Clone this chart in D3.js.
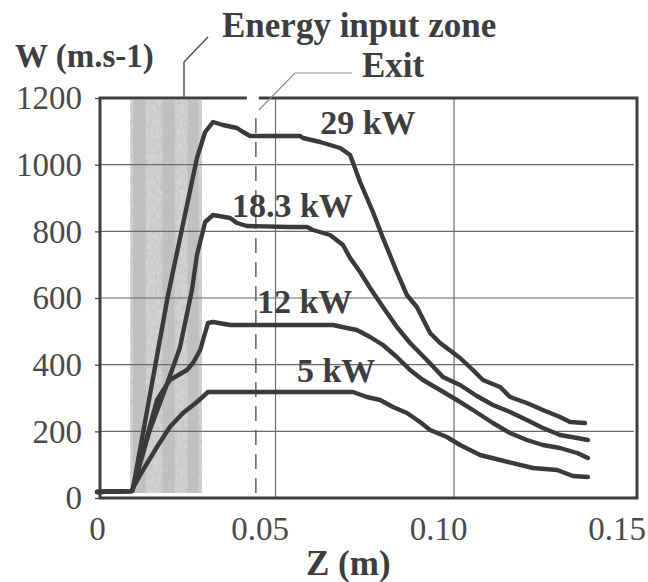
<!DOCTYPE html>
<html>
<head>
<meta charset="utf-8">
<script src="https://cdn.jsdelivr.net/npm/d3@7"></script>
<style>
  body { margin: 0; background: #fff; }
  text { font-family: "Liberation Serif", "Times New Roman", serif; }
</style>
</head>
<body>
<script>
// Data: [Z (m), W (m/s)]
var kw29 = [[0,18],[0.0098,21],[0.0101,30],[0.0199,609],[0.0280,1020],[0.0303,1098],[0.0325,1128],
  [0.0353,1119],[0.0392,1110],[0.0409,1098],[0.0429,1086],[0.0569,1086],[0.0577,1080],[0.0625,1068],
  [0.0681,1050],[0.0709,1029],[0.0737,948],[0.0773,858],[0.0801,780],[0.0840,678],[0.0868,609],
  [0.0896,573],[0.0933,495],[0.0961,465],[0.1017,420],[0.1053,384],[0.1081,354],[0.1129,333],
  [0.1157,303],[0.1204,285],[0.1249,264],[0.1297,243],[0.1325,228],[0.1367,225]];
var kw18 = [[0,18],[0.0098,21],[0.0101,30],[0.0148,204],[0.0190,324],[0.0232,450],[0.0266,624],
  [0.0280,729],[0.0303,828],[0.0325,849],[0.0373,840],[0.0392,825],[0.0420,816],[0.0541,813],
  [0.0588,813],[0.0605,804],[0.0653,789],[0.0689,759],[0.0709,720],[0.0737,678],[0.0765,630],
  [0.0801,573],[0.0840,513],[0.0877,465],[0.0924,414],[0.0969,363],[0.1017,339],[0.1064,306],
  [0.1109,279],[0.1157,258],[0.1204,234],[0.1249,210],[0.1297,189],[0.1345,180],[0.1375,174]];
var kw12 = [[0,18],[0.0098,21],[0.0101,30],[0.0168,294],[0.0204,354],[0.0252,384],[0.0269,405],
  [0.0289,444],[0.0311,525],[0.0325,528],[0.0373,519],[0.0661,519],[0.0700,510],[0.0728,504],
  [0.0765,483],[0.0801,459],[0.0840,423],[0.0877,384],[0.0913,354],[0.0961,324],[0.1008,294],
  [0.1053,264],[0.1109,225],[0.1157,195],[0.1204,174],[0.1249,159],[0.1297,150],[0.1345,135],
  [0.1375,120]];
var kw5 = [[0,18],[0.0098,21],[0.0101,30],[0.0129,84],[0.0168,153],[0.0204,213],[0.0241,255],
  [0.0280,288],[0.0311,318],[0.0717,318],[0.0756,303],[0.0793,294],[0.0829,273],[0.0868,255],
  [0.0905,228],[0.0933,204],[0.0980,183],[0.1017,159],[0.1073,129],[0.1129,114],[0.1221,90],
  [0.1289,84],[0.1333,66],[0.1375,63]];

var seriesNames = ["29 kW", "18.3 kW", "12 kW", "5 kW"];
var labelPos = [[0.0625,1092],[0.0378,843],[0.0448,555],[0.0560,348]];
var yTicks = [0, 200, 400, 600, 800, 1000, 1200];
var xTicks = [0, 0.05, 0.10, 0.15];
var zone = [0.0093, 0.0294];
var exitZ = 0.0445;

function draw() {
  var width = 648, height = 582;
  var pL = 100, pR = 637, pT = 98, pB = 498;
  var ink = "#3e3e3e";

  var svg = d3.select("body").append("svg").attr("width", width).attr("height", height);

  var x = d3.scaleLinear().domain([0, 0.15]).range([97, 632.5]);
  var y = d3.scaleLinear().domain([0, 1200]).range([pB, pT]);

  // grain for the shaded zone
  var defs = svg.append("defs");
  var f = defs.append("filter").attr("id", "grain").attr("x", 0).attr("y", 0).attr("width", 1).attr("height", 1);
  f.append("feTurbulence").attr("type", "fractalNoise").attr("baseFrequency", "0.45 0.2").attr("numOctaves", 2).attr("seed", 3).attr("result", "n");
  f.append("feColorMatrix").attr("in", "n").attr("type", "matrix")
    .attr("values", "0 0 0 0 0.5  0 0 0 0 0.5  0 0 0 0 0.5  0 0 0 1.1 -0.25").attr("result", "g");
  f.append("feComposite").attr("in", "g").attr("in2", "SourceGraphic").attr("operator", "in").attr("result", "c");
  var mg = f.append("feMerge");
  mg.append("feMergeNode").attr("in", "SourceGraphic");
  mg.append("feMergeNode").attr("in", "c");

  // energy input zone
  var zx0 = x(zone[0]), zx1 = x(zone[1]), zw = zx1 - zx0;
  var zg = svg.append("g").attr("filter", "url(#grain)");
  zg.append("rect").attr("x", zx0).attr("y", pT + 2).attr("width", zw).attr("height", pB - pT - 7)
    .attr("fill", "#d6d6d6");
  [[0.04, 0.22], [0.45, 0.62], [0.80, 0.95]].forEach(function(s) {
    zg.append("rect").attr("x", zx0 + s[0] * zw).attr("y", pT + 2).attr("width", (s[1] - s[0]) * zw)
      .attr("height", pB - pT - 7).attr("fill", "#c2c2c2");
  });

  // grid
  svg.append("g").selectAll("line").data(yTicks.filter(function(d) { return d > 0 && d < 1200; }))
    .enter().append("line")
    .attr("x1", pL).attr("x2", pR - 3)
    .attr("y1", function(d) { return y(d); }).attr("y2", function(d) { return y(d); })
    .attr("stroke", "#6a6a6a").attr("stroke-width", 1.2);
  svg.append("g").selectAll("line").data([0.05, 0.10]).enter().append("line")
    .attr("x1", function(d) { return x(d); }).attr("x2", function(d) { return x(d); })
    .attr("y1", pT).attr("y2", pB)
    .attr("stroke", "#6a6a6a").attr("stroke-width", 1.2);

  // exit line
  svg.append("line").attr("x1", x(exitZ)).attr("x2", x(exitZ)).attr("y1", 118).attr("y2", pB - 4)
    .attr("stroke", "#555").attr("stroke-width", 1.4).attr("stroke-dasharray", "15,9");

  // frame with gap at the exit
  svg.append("path").attr("d",
    "M" + (x(exitZ) - 9) + "," + pT + "H" + pL + "V" + pB + "H" + pR + "V" + pT + "H" + (x(exitZ) + 3))
    .attr("stroke", ink).attr("stroke-width", 3).attr("fill", "none");

  // axes
  var yAxis = d3.axisLeft(y).tickValues(yTicks).tickSize(5).tickFormat(d3.format("d"));
  var gy = svg.append("g").attr("transform", "translate(" + pL + ",0)").call(yAxis);
  gy.select(".domain").remove();
  gy.selectAll("line").attr("stroke", ink).attr("stroke-width", 1.2);
  gy.selectAll("text").attr("x", -18).attr("dy", "0.33em")
    .attr("font-size", 33).attr("fill", "#4a4a4a").attr("font-family", "Liberation Serif, serif");

  var xAxis = d3.axisBottom(x).tickValues(xTicks).tickSize(0)
    .tickFormat(function(d) { return d === 0 ? "0" : d3.format(".2f")(d); });
  var gx = svg.append("g").attr("transform", "translate(0," + pB + ")").call(xAxis);
  gx.select(".domain").remove();
  gx.selectAll("text").attr("y", 42).attr("dy", 0)
    .attr("dx", function(d) { return d === 0 ? 0 : -16; })
    .attr("font-size", 33).attr("fill", "#4a4a4a").attr("font-family", "Liberation Serif, serif");

  // curves
  var line = d3.line().x(function(d) { return x(d[0]); }).y(function(d) { return y(d[1]); });
  svg.append("g").selectAll("path").data([kw29, kw18, kw12, kw5]).enter().append("path")
    .attr("d", line).attr("fill", "none").attr("stroke", "#3a3a3a").attr("stroke-width", 4.4)
    .attr("stroke-linejoin", "round").attr("stroke-linecap", "round");

  // curve labels
  svg.append("g").selectAll("text").data(seriesNames).enter().append("text")
    .attr("x", function(d, i) { return x(labelPos[i][0]); })
    .attr("y", function(d, i) { return y(labelPos[i][1]); })
    .attr("font-size", 34).attr("font-weight", "bold").attr("fill", ink)
    .text(function(d) { return d; });

  // titles and leaders
  function boldText(t, px, py, size) {
    svg.append("text").attr("x", px).attr("y", py).attr("font-size", size)
      .attr("font-weight", "bold").attr("fill", ink).text(t);
  }
  boldText("W (m.s-1)", 15, 67, 33);
  boldText("Energy input zone", 222, 37, 35);
  boldText("Exit", 362, 77, 35);
  boldText("Z (m)", 306, 575, 35);

  svg.append("path").attr("d", "M184," + pT + "V62L208,37")
    .attr("fill", "none").attr("stroke", "#555").attr("stroke-width", 1.5);
  svg.append("path").attr("d", "M" + (x(exitZ) + 3) + ",110L295,73H352")
    .attr("fill", "none").attr("stroke", "#8a8a8a").attr("stroke-width", 1.1);
}
draw();
</script>
</body>
</html>
